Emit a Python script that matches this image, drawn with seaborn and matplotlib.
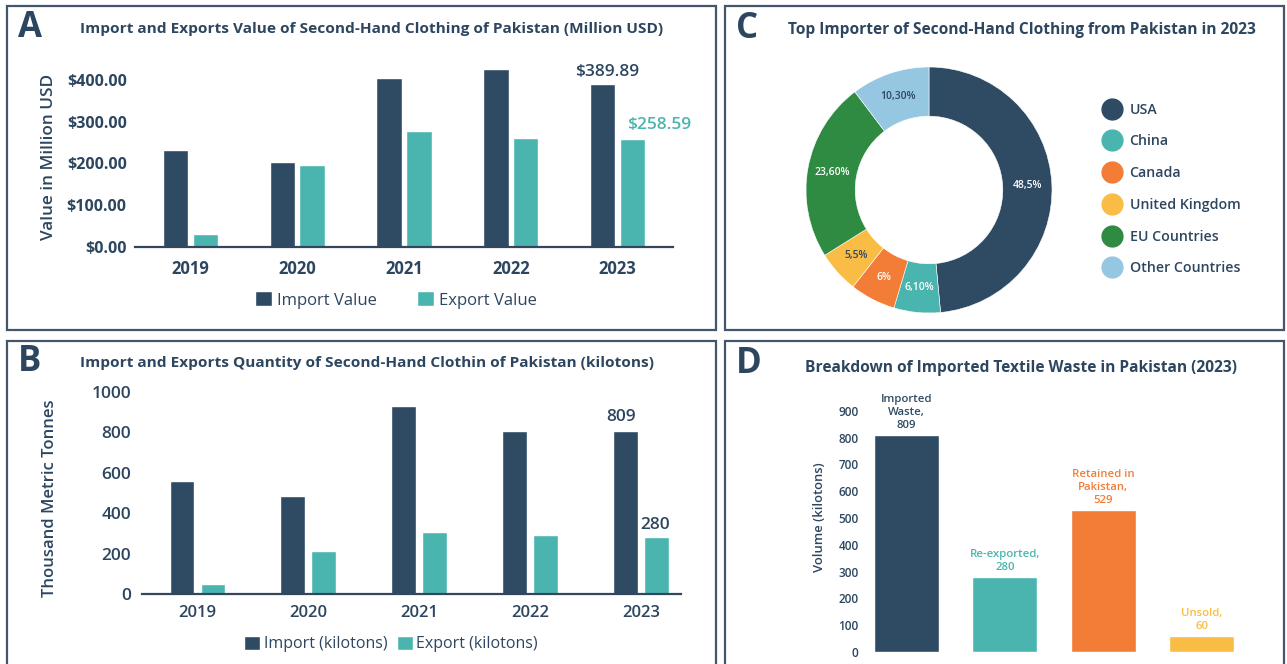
import numpy as np
import pandas as pd
import matplotlib
matplotlib.use("Agg")
import matplotlib.pyplot as plt
from matplotlib.patches import Rectangle
from matplotlib.lines import Line2D
from matplotlib.ticker import FuncFormatter, FixedLocator
import seaborn as sns

# ---- data ----
years = ["2019", "2020", "2021", "2022", "2023"]
import_value = [231, 203, 403, 425, 389.89]
export_value = [30, 196, 278, 260, 258.59]
value_ticks = [0, 100, 200, 300, 400]

import_qty = [557, 483, 930, 809, 809]
export_qty = [50, 215, 308, 290, 280]
qty_ticks = [0, 200, 400, 600, 800, 1000]

importers = ["USA", "China", "Canada", "United Kingdom", "EU Countries", "Other Countries"]
importer_share = [48.5, 6.1, 6.0, 5.5, 23.6, 10.3]
importer_labels = ["48,5%", "6,10%", "6%", "5,5%", "23,60%", "10,30%"]

waste_cats = ["Imported Waste", "Re-exported", "Retained in Pakistan", "Unsold"]
waste_text = ["Imported\nWaste,", "Re-exported,", "Retained in\nPakistan,", "Unsold,"]
waste_vals = [809, 280, 529, 60]
waste_ticks = [0, 100, 200, 300, 400, 500, 600, 700, 800, 900]

# ---- style ----
NAVY = "#2F4A63"
TEAL = "#4AB5AE"
ORANGE = "#F37C36"
YELLOW = "#F9BD45"
GREEN = "#2F8A42"
LIGHTBLUE = "#96C7E2"
TEXT = "#2D4660"
BORDER = "#44566B"
SEMI = ["Open Sans SemiBold", "Open Sans", "DejaVu Sans"]

sns.set_theme(style="white")
plt.rcParams["font.family"] = ["Open Sans", "DejaVu Sans"]
plt.rcParams["text.color"] = TEXT
plt.rcParams["axes.labelcolor"] = TEXT
plt.rcParams["xtick.color"] = TEXT
plt.rcParams["ytick.color"] = TEXT

W, H = 1287, 664
fig = plt.figure(figsize=(W / 100, H / 100), dpi=100)
fig.patch.set_facecolor("white")


def px_axes(x0, y0, x1, y1):
    return fig.add_axes([x0 / W, 1 - y1 / H, (x1 - x0) / W, (y1 - y0) / H])


def px_text(x, y, s, **kw):
    fig.text(x / W, 1 - y / H, s, **kw)


# panel frames
for (x0, y0, x1, y1) in [(7, 6, 716, 330), (7, 341, 716, 672), (725, 6, 1284, 330), (725, 341, 1284, 672)]:
    fig.add_artist(Rectangle((x0 / W, 1 - y1 / H), (x1 - x0) / W, (y1 - y0) / H,
                             transform=fig.transFigure, fill=False, edgecolor=BORDER, lw=1.6))

# panel letters and titles
for x, y, s in [(18, 28, "A"), (18, 362, "B"), (736, 29, "C"), (736, 364, "D")]:
    px_text(x, y, s, fontsize=25, fontweight="bold", color=TEXT, va="center", ha="left")
px_text(80, 29, "Import and Exports Value of Second-Hand Clothing of Pakistan (Million USD)",
        fontsize=11.1, fontweight="bold", color=TEXT, va="center")
px_text(80, 363, "Import and Exports Quantity of Second-Hand Clothin of Pakistan (kilotons)",
        fontsize=11.1, fontweight="bold", color=TEXT, va="center")
px_text(788, 30, "Top Importer of Second-Hand Clothing from Pakistan in 2023",
        fontsize=11.2, fontweight="bold", color=TEXT, va="center")
px_text(805, 368, "Breakdown of Imported Textile Waste in Pakistan (2023)",
        fontsize=11.2, fontweight="bold", color=TEXT, va="center")


def style_grouped(ax):
    sns.despine(ax=ax, left=True)
    ax.spines["bottom"].set_color("#33475C")
    ax.spines["bottom"].set_linewidth(1.6)
    ax.tick_params(axis="both", length=0)
    ax.set_xlabel("")


# ---- A: import/export value ----
ax_a = px_axes(135, 63, 673, 247)
df_a = pd.DataFrame({
    "year": years * 2,
    "value": import_value + export_value,
    "series": ["Import Value"] * len(years) + ["Export Value"] * len(years),
})
sns.barplot(data=df_a, x="year", y="value", hue="series", palette=[NAVY, TEAL],
            saturation=1, width=0.56, gap=0.15, errorbar=None, ax=ax_a)
ax_a.set_xlim(-0.52, 4.52)
ax_a.set_ylim(0, 440)
ax_a.yaxis.set_major_locator(FixedLocator(value_ticks))
ax_a.yaxis.set_major_formatter(FuncFormatter(lambda v, p: f"${v:,.2f}"))
style_grouped(ax_a)
ax_a.tick_params(axis="y", labelsize=11.5, pad=6)
ax_a.tick_params(axis="x", labelsize=12, pad=9)
for lab in ax_a.get_xticklabels() + ax_a.get_yticklabels():
    lab.set_fontweight("bold")
ax_a.set_ylabel("Value in Million USD", fontsize=12.3, family=SEMI, fontweight="semibold")
ax_a.yaxis.set_label_coords(-0.145, 0.49)
sns.move_legend(ax_a, "center", bbox_to_anchor=(0.485, -0.288), ncol=2, frameon=False,
                title=None, fontsize=12, handlelength=1.0, handleheight=1.0,
                handletextpad=0.3, columnspacing=2.4, labelcolor=TEXT)
p_imp = ax_a.containers[0][-1]
p_exp = ax_a.containers[1][-1]
ax_a.annotate(f"${import_value[-1]:.2f}", xy=(p_imp.get_x() + p_imp.get_width() / 2, p_imp.get_height()),
              xytext=(3, 3), textcoords="offset points", ha="center", va="bottom",
              fontsize=12.5, color=TEXT, family=SEMI, fontweight="semibold")
ax_a.annotate(f"${export_value[-1]:.2f}", xy=(p_exp.get_x() + p_exp.get_width() / 2, p_exp.get_height()),
              xytext=(19, 4), textcoords="offset points", ha="center", va="bottom",
              fontsize=12.5, color=TEAL, family=SEMI, fontweight="semibold")

# ---- B: import/export quantity ----
ax_b = px_axes(142, 392, 681, 594)
df_b = pd.DataFrame({
    "year": years * 2,
    "qty": import_qty + export_qty,
    "series": ["Import (kilotons)"] * len(years) + ["Export (kilotons)"] * len(years),
})
sns.barplot(data=df_b, x="year", y="qty", hue="series", palette=[NAVY, TEAL],
            saturation=1, width=0.56, gap=0.2, errorbar=None, ax=ax_b)
ax_b.set_xlim(-0.5, 4.36)
ax_b.set_ylim(0, 1000)
ax_b.yaxis.set_major_locator(FixedLocator(qty_ticks))
style_grouped(ax_b)
ax_b.tick_params(axis="y", labelsize=12.5, pad=8)
ax_b.tick_params(axis="x", labelsize=12, pad=8)
for lab in ax_b.get_xticklabels() + ax_b.get_yticklabels():
    lab.set_family(SEMI)
    lab.set_fontweight("semibold")
ax_b.set_ylabel("Thousand Metric Tonnes", fontsize=12, family=SEMI, fontweight="semibold")
ax_b.yaxis.set_label_coords(-0.156, 0.475)
sns.move_legend(ax_b, "center", bbox_to_anchor=(0.462, -0.2475), ncol=2, frameon=False,
                title=None, fontsize=11.5, handlelength=1.0, handleheight=1.0,
                handletextpad=0.2, columnspacing=0.6, labelcolor=TEXT)
p_imp = ax_b.containers[0][-1]
p_exp = ax_b.containers[1][-1]
ax_b.annotate(f"{import_qty[-1]}", xy=(p_imp.get_x() + p_imp.get_width() / 2, p_imp.get_height()),
              xytext=(-3, 4), textcoords="offset points", ha="center", va="bottom",
              fontsize=12.5, color=TEXT, family=SEMI, fontweight="semibold")
ax_b.annotate(f"{export_qty[-1]}", xy=(p_exp.get_x() + p_exp.get_width() / 2, p_exp.get_height()),
              xytext=(-1, 3), textcoords="offset points", ha="center", va="bottom",
              fontsize=12.5, color=TEXT, family=SEMI, fontweight="semibold")

# ---- C: donut ----
ax_c = px_axes(806, 67, 1052, 313)
pie_colors = [NAVY, TEAL, ORANGE, YELLOW, GREEN, LIGHTBLUE]
wedges, _ = ax_c.pie(importer_share, colors=pie_colors, startangle=90, counterclock=False,
                     radius=1, wedgeprops=dict(width=0.4, edgecolor="white", linewidth=0.4))
ax_c.set_xlim(-1, 1)
ax_c.set_ylim(-1, 1)
label_colors = ["white", "white", "white", TEXT, "white", TEXT]
for w, lab, lc in zip(wedges, importer_labels, label_colors):
    ang = np.deg2rad((w.theta1 + w.theta2) / 2)
    ax_c.text(0.8 * np.cos(ang), 0.8 * np.sin(ang), lab, ha="center", va="center",
              fontsize=7.5, family=SEMI, fontweight="semibold", color=lc)
handles = [Line2D([], [], marker="o", ls="", markersize=15, color=c) for c in pie_colors]
fig.legend(handles, importers, loc="center left", bbox_to_anchor=(1102 / W, 1 - 189 / H),
           frameon=False, handlelength=1.4, handletextpad=0.55,
           labelspacing=1.25, borderpad=0, borderaxespad=0, labelcolor=TEXT,
           prop={"family": SEMI, "weight": "semibold", "size": 10.2})

# ---- D: waste breakdown ----
ax_d = px_axes(860, 384, 1251, 652)
df_d = pd.DataFrame({"cat": waste_cats, "vol": waste_vals})
d_colors = [NAVY, TEAL, ORANGE, YELLOW]
sns.barplot(data=df_d, x="cat", y="vol", hue="cat", palette=d_colors, saturation=1,
            width=0.66, errorbar=None, legend=False, ax=ax_d)
ax_d.set_xlim(-0.47, 3.5)
ax_d.set_ylim(0, 1000)
ax_d.yaxis.set_major_locator(FixedLocator(waste_ticks))
sns.despine(ax=ax_d, left=True, bottom=True)
ax_d.set_xticks([])
ax_d.set_xlabel("")
ax_d.tick_params(axis="y", length=0, labelsize=8.5, pad=1)
for lab in ax_d.get_yticklabels():
    lab.set_family(SEMI)
    lab.set_fontweight("semibold")
ax_d.set_ylabel("Volume (kilotons)", fontsize=9.4, family=SEMI, fontweight="semibold")
ax_d.yaxis.set_label_coords(-0.088, 0.504)
for cont, txt, v, c in zip(ax_d.containers, waste_text, waste_vals, d_colors):
    p = cont[0]
    ax_d.annotate(f"{txt}\n{v}", xy=(p.get_x() + p.get_width() / 2, p.get_height()),
                  xytext=(0, 3), textcoords="offset points", ha="center", va="bottom",
                  fontsize=8.2, family=SEMI, fontweight="semibold", color=c, linespacing=1.25)

fig.savefig("out.png", dpi=100)
